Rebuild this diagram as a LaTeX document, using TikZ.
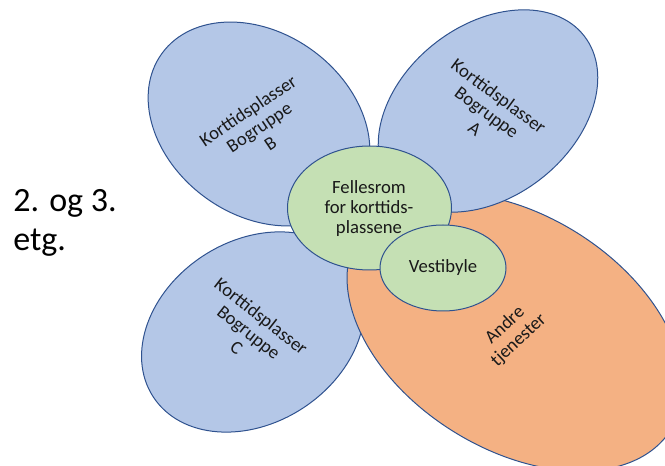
\documentclass[tikz,border=0pt]{standalone}
\usepackage{fontspec}
\setmainfont{Carlito}
\usepackage{tikz}

\begin{document}
\begin{tikzpicture}[x=0.75pt,y=0.75pt,yscale=-1,xscale=1,
    blueroom/.style={color={rgb, 255:red, 47; green, 82; blue, 143 }, fill={rgb, 255:red, 180; green, 199; blue, 231 }, line width=0.75},
    greenroom/.style={color={rgb, 255:red, 47; green, 82; blue, 143 }, fill={rgb, 255:red, 197; green, 224; blue, 180 }, line width=0.75},
    orangeroom/.style={color={rgb, 255:red, 47; green, 82; blue, 143 }, fill={rgb, 255:red, 244; green, 177; blue, 131 }, line width=0.75},
    roomtext/.style={inner sep=0.75pt, align=center, text={rgb, 255:red, 25; green, 25; blue, 25 }, font=\fontsize{14}{15}\selectfont}]
    %set diagram left start at 0, and has height of 466
    \useasboundingbox (0,0) rectangle (665,466);
    \clip (0,0) rectangle (665,466);
    
    %Shape: Ellipse [Bogruppe B] 
    \draw [blueroom, rotate around={36:(259,124)}] (259,124) ellipse (120 and 91);
    %Shape: Ellipse [Bogruppe C] 
    \draw [blueroom, rotate around={-33:(253,332)}] (253,332) ellipse (119 and 91);
    %Shape: Ellipse [Andre tjenester] 
    \draw [orangeroom, rotate around={32:(515,332)}] (515,332) ellipse (184 and 117);
    %Shape: Ellipse [Bogruppe A] 
    \draw [blueroom, rotate around={-38:(488,111)}] (488,111) ellipse (122 and 86);
    %Shape: Ellipse [Fellesrom] 
    \draw [greenroom] (369.5,208) ellipse (82 and 62);
    %Shape: Ellipse [Vestibyle] 
    \draw [greenroom] (443,268) ellipse (63 and 43);
    
    
    % Text Node
    \draw (12,223) node (etg) [anchor=west][inner sep=0.75pt] [align=left, font=\fontsize{25.5}{29.5}\selectfont] {2. og 3.\\etg.};
    % Text Node
    \draw (259,127) node (gruppeB) [rotate=34][roomtext] {Korttidsplasser\\Bogruppe\\B};
    % Text Node
    \draw (487,112) node (gruppeA) [rotate=-36.5][roomtext] {Korttidsplasser\\Bogruppe\\A};
    % Text Node
    \draw (249,332) node (gruppeC) [rotate=-38][roomtext] {Korttidsplasser\\Bogruppe\\C};
    % Text Node
    \draw (512,333) node (andre) [rotate=43][roomtext] {Andre\\tjenester};
    % Text Node
    \draw (369,209) node (felles) [roomtext] {Fellesrom\\for korttids-\\plassene};
    % Text Node
    \draw (443,268) node (vestibyle) [roomtext] {Vestibyle};
    
\end{tikzpicture}
\end{document}
